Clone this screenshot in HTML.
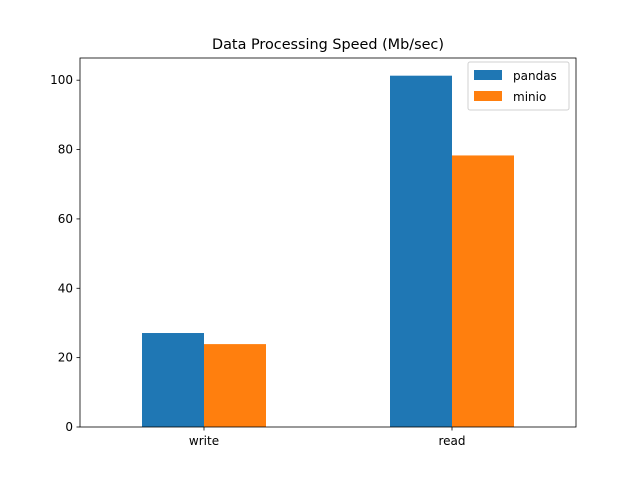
<!DOCTYPE html>
<html><head><meta charset="utf-8"><style>body{margin:0;background:#fff}svg{font-family:"DejaVu Sans","Liberation Sans",sans-serif}</style></head>
<body>
<svg id="chart" width="640" height="480" xmlns="http://www.w3.org/2000/svg">
<rect width="640" height="480" fill="#fff"/>
<text x="328" y="49" font-size="14.4" text-anchor="middle">Data Processing Speed (Mb/sec)</text>
<g id="bars"></g>
<g id="axes"></g>
<g>
<rect x="468" y="62" width="101" height="48" rx="2" fill="#fff" stroke="#ccc" opacity="0.9"/>
<rect x="474" y="70" width="28" height="10" fill="#1f77b4"/>
<text x="513" y="80" font-size="12">pandas</text>
<rect x="474" y="91" width="28" height="10" fill="#ff7f0e"/>
<text x="513" y="101" font-size="12">minio</text>
</g>
</svg>
<script>
const categories = ["write", "read"];
const pandasValues = [27.1, 101.3];
const minioValues = [23.9, 78.3];
const yTicks = [0, 20, 40, 60, 80, 100];
const seriesNames = ["pandas", "minio"];
const colors = ["#1f77b4", "#ff7f0e"];

const L=80,R=576,T=58,B=427,ymax=106.4;
const xs=v=>L+(v+0.5)/2*(R-L);
const ys=v=>B-v/ymax*(B-T);
const NS="http://www.w3.org/2000/svg";
function mk(t,a,p){const e=document.createElementNS(NS,t);for(const k in a)e.setAttribute(k,a[k]);p.appendChild(e);return e;}
const bars=document.getElementById('bars'),axes=document.getElementById('axes');
[pandasValues,minioValues].forEach((vals,s)=>{
  vals.forEach((v,i)=>{
    const x0=xs(i-0.25+s*0.25),x1=xs(i+s*0.25);
    const r=mk('rect',{x:x0,y:ys(v),width:x1-x0,height:B-ys(v),fill:colors[s]},bars);
    
    
  });
});
const frame=mk('rect',{x:L,y:T,width:R-L,height:B-T,fill:'none',stroke:'#000','stroke-width':0.8},axes);


yTicks.forEach(t=>{
  const y=ys(t);
  mk('line',{x1:L-3.5,x2:L,y1:y,y2:y,stroke:'#000','stroke-width':0.8},axes);
  const tx=mk('text',{x:L-7,y:y+4,'font-size':12,'text-anchor':'end'},axes);
  tx.textContent=t;
  
  
});
categories.forEach((c,i)=>{
  const x=xs(i);
  mk('line',{x1:x,x2:x,y1:B,y2:B+3.5,stroke:'#000','stroke-width':0.8},axes);
  const tx=mk('text',{x:x,y:B+18,'font-size':12,'text-anchor':'middle'},axes);
  tx.textContent=c;
  
  
});
</script>
</body></html>
